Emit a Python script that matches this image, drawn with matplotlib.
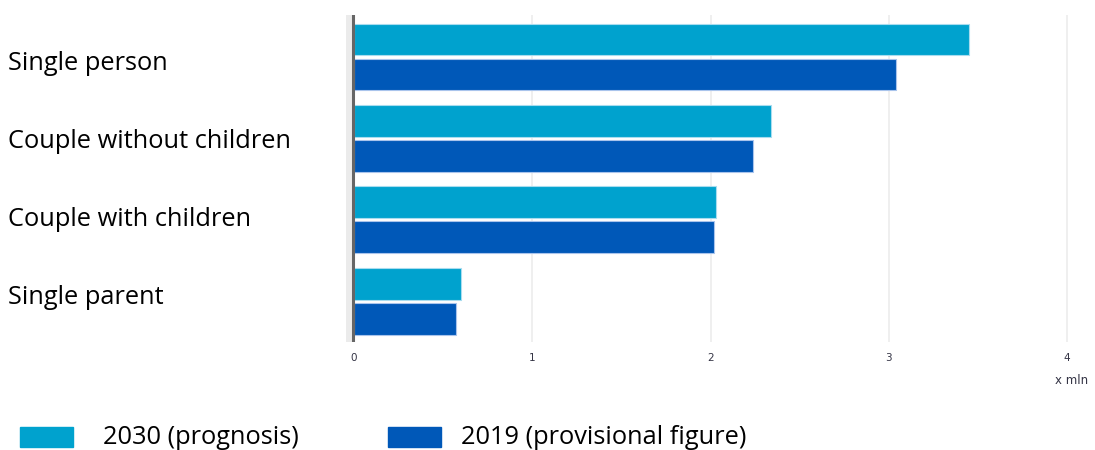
import numpy as np
import matplotlib
matplotlib.use("Agg")
import matplotlib.pyplot as plt
from matplotlib.patches import Rectangle

# === Daten ===
categories = ["Single person", "Couple without children", "Couple with children", "Single parent"]
values_2030 = [3.45, 2.34, 2.03, 0.60]
values_2019 = [3.04, 2.24, 2.02, 0.57]
series_names = ["2030 (prognosis)", "2019 (provisional figure)"]
xticks = [0, 1, 2, 3, 4]
unit_label = "x mln"

col_2030 = "#00a2ce"
col_2019 = "#0058b8"
label_font = "Open Sans"
label_size = 18.3

W, H = 1095, 450
fig = plt.figure(figsize=(W / 100, H / 100), dpi=100)

# Achse in Pixelkoordinaten
left_px, right_px, top_px, bot_px = 346, 1076, 15, 342
ax = fig.add_axes([left_px / W, 1 - bot_px / H, (right_px - left_px) / W, (bot_px - top_px) / H])

y = np.arange(len(categories))
bh = 0.39
off = 0.215
ax.barh(y - off, values_2030, height=bh, color=col_2030, edgecolor="#a8dcef", linewidth=0.8, zorder=3)
ax.barh(y + off, values_2019, height=bh, color=col_2019, edgecolor="#a9c4ec", linewidth=0.8, zorder=3)

ax.set_xlim(-0.045, 4.05)
ax.set_ylim(3.5, -0.515)

# Gitterlinien
for t in xticks[1:]:
    ax.axvline(t, color="#ececec", linewidth=1.2, zorder=1)
ax.axvspan(-0.045, -0.008, color="#ebebeb", zorder=1)
ax.axvline(-0.004, color="#666666", linewidth=2.2, zorder=4)

for s in ax.spines.values():
    s.set_visible(False)
ax.set_yticks([])
ax.set_xticks(xticks)
ax.set_xticklabels([str(t) for t in xticks], fontsize=7.5, color="#333344")
ax.tick_params(axis="x", length=0, pad=8)
fig.text(1072 / W, 1 - 381 / H, unit_label, fontsize=8.5, color="#333344", ha="center", va="center")

# Kategorien links (eigene Textzeilen, Abstand ca. 78 px)
for i, c in enumerate(categories):
    fig.text(8 / W, 1 - (63 + 78 * i) / H, c, fontsize=label_size, family=label_font,
             ha="left", va="center", color="#000000")

# Legende
for (x0, tx), col, name in zip([(20, 103), (388, 461)], [col_2030, col_2019], series_names):
    fig.add_artist(Rectangle((x0 / W, 1 - 447 / H), 53 / W, 20 / H,
                             transform=fig.transFigure, color=col))
    fig.text(tx / W, 1 - 438 / H, name, fontsize=label_size, family=label_font,
             ha="left", va="center", color="#000000")

fig.savefig("out.png", dpi=100)
